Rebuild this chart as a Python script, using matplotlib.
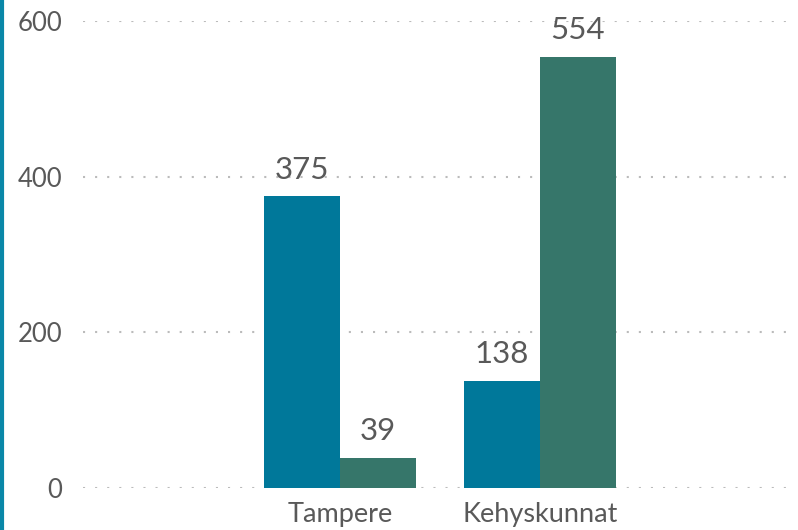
import matplotlib
matplotlib.use("Agg")
import matplotlib.pyplot as plt
import numpy as np

categories = ["Tampere", "Kehyskunnat"]
series_a = [375, 138]
series_b = [39, 554]
yticks = [0, 200, 400, 600]

color_a = "#00789a"
color_b = "#36766a"
text_color = "#595959"

plt.rcParams['font.family'] = ['Lato', 'DejaVu Sans']

fig = plt.figure(figsize=(7.98, 5.30), dpi=100)
W, H = 798, 530
ax = fig.add_axes([83 / W, (H - 488) / H, (790 - 83) / W, (488 - 21) / H])

x = np.arange(len(categories))
bw = 0.38
ax.bar(x - bw / 2, series_a, width=bw, color=color_a, zorder=3)
ax.bar(x + bw / 2, series_b, width=bw, color=color_b, zorder=3)

for xi, v in zip(x - bw / 2, series_a):
    ax.text(xi, v + 16, str(v), ha="center", va="bottom", fontsize=22.5, color=text_color)
for xi, v in zip(x + bw / 2, series_b):
    ax.text(xi, v + 16, str(v), ha="center", va="bottom", fontsize=22.5, color=text_color)

ax.set_xlim(-1.285, 2.25)
ax.set_ylim(0, 600)
ax.set_yticks(yticks)
ax.set_yticklabels([str(t) for t in yticks], fontsize=18.5, color=text_color)
ax.set_xticks(x)
ax.set_xticklabels(categories, fontsize=19.5, color=text_color)
ax.tick_params(axis="both", length=0)
ax.tick_params(axis="y", pad=15)
ax.tick_params(axis="x", pad=10)
for s in ax.spines.values():
    s.set_visible(False)
ax.yaxis.grid(True, linestyle=(0, (1, 4.8)), color="#bbbbbb", linewidth=1.5, zorder=0)
ax.set_axisbelow(True)

# left accent line
fig.add_artist(plt.Line2D([2 / W, 2 / W], [0, 1], color="#0a87a8", linewidth=3, transform=fig.transFigure))

fig.savefig("out.png", dpi=100)
